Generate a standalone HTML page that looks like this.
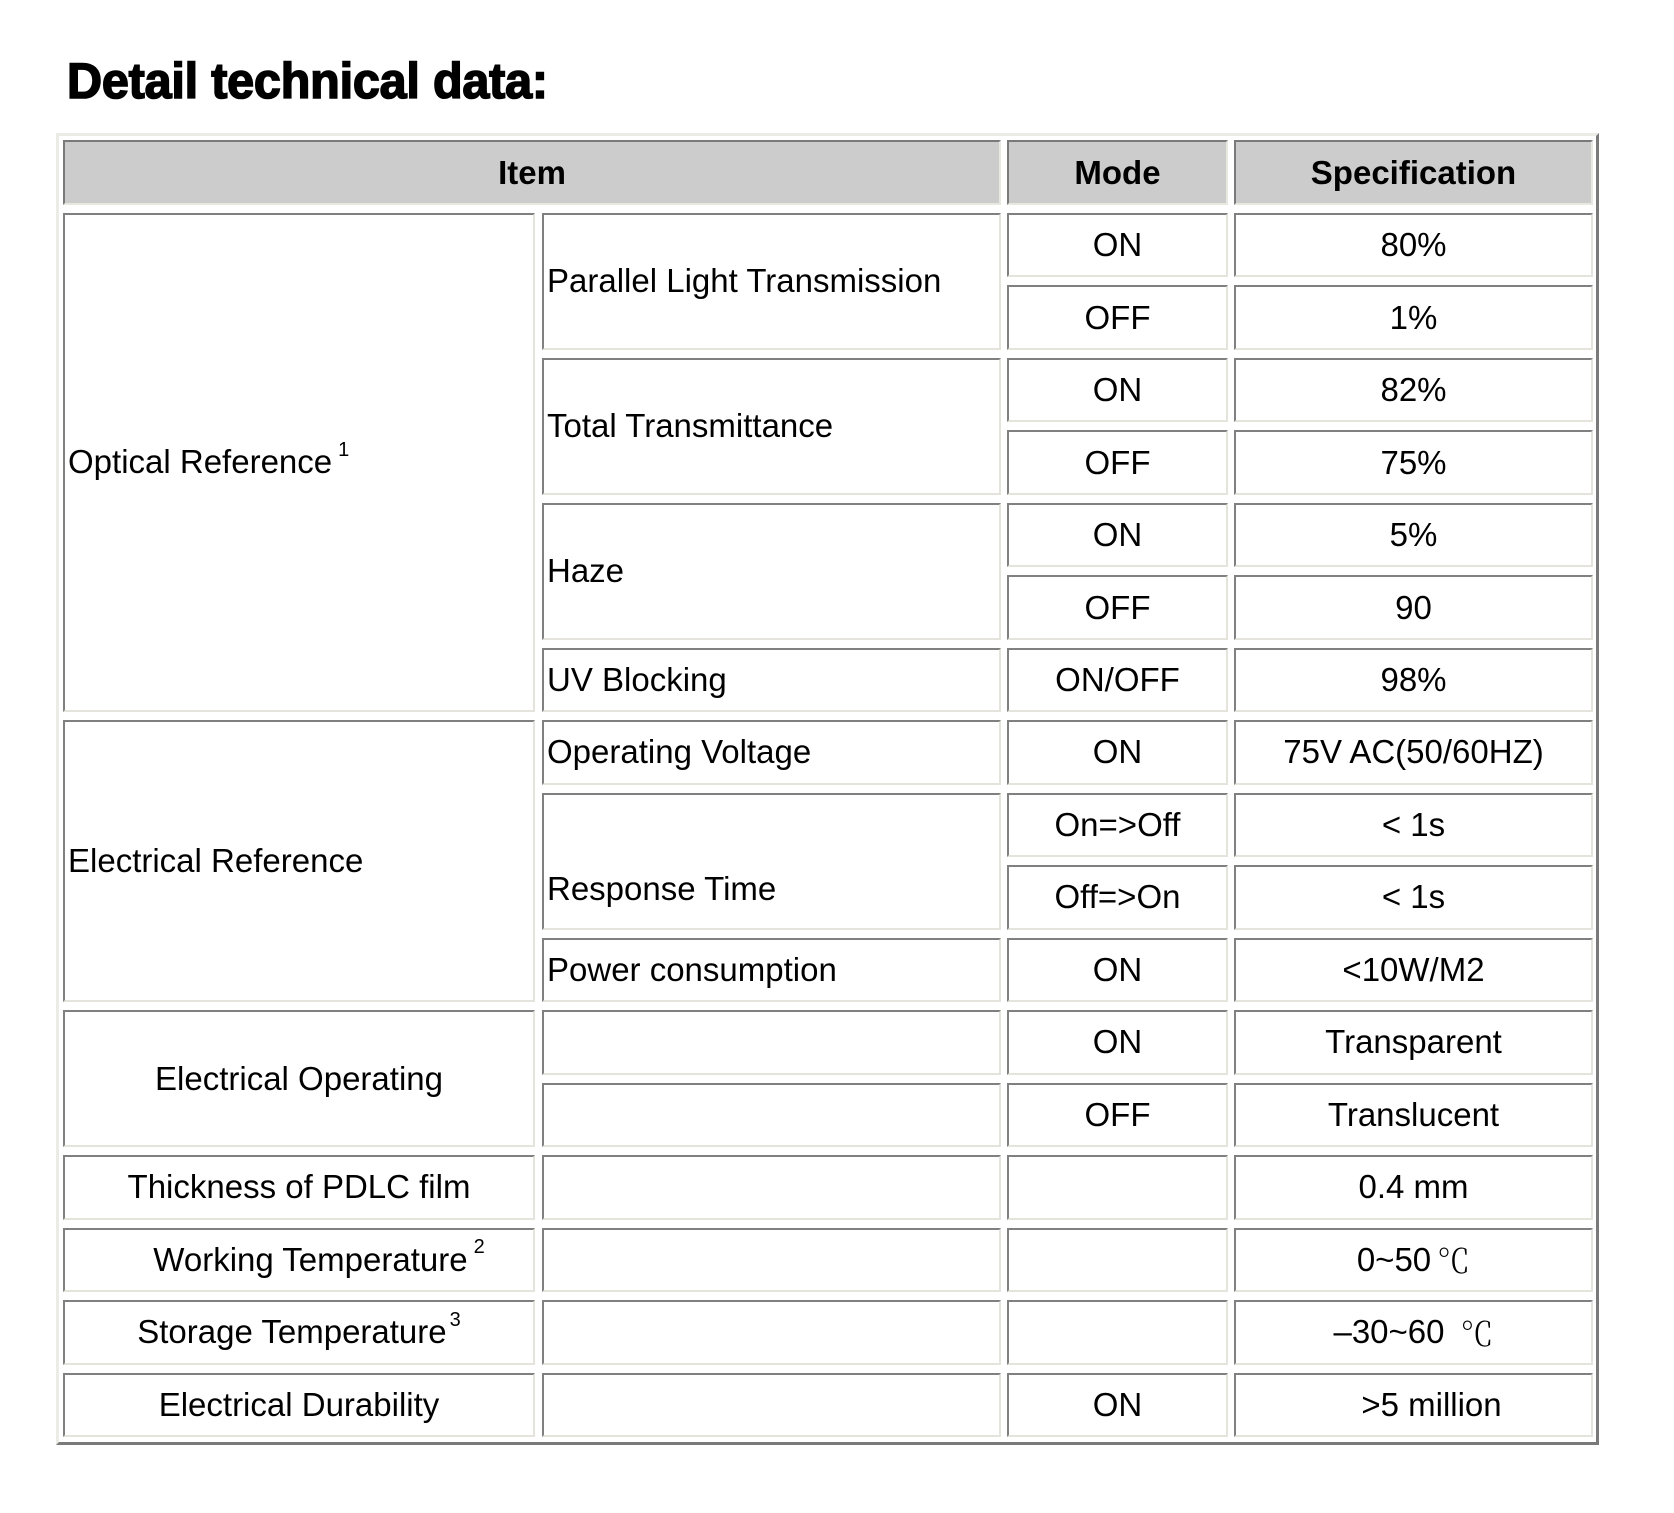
<!DOCTYPE html>
<html><head><meta charset="utf-8">
<style>
html,body{margin:0;padding:0;background:#fff;}
body{width:1674px;height:1513px;position:relative;overflow:hidden;font-family:"Liberation Sans","Noto Sans CJK SC",sans-serif;color:#000;}
.t{position:absolute;left:67px;top:55.5px;font-size:50px;line-height:50px;font-weight:bold;white-space:nowrap;transform:scaleX(0.97);transform-origin:left top;letter-spacing:-0.2px;-webkit-text-stroke:1.6px #000;}
.o{position:absolute;left:56px;top:133px;width:1543px;height:1312px;box-sizing:border-box;border:3px solid;border-color:#ecece6 #7a7a7a #7a7a7a #ecece6;}
.c{position:absolute;box-sizing:border-box;border:2px solid;border-color:#808080 #e4e4dc #e4e4dc #808080;display:flex;align-items:center;justify-content:center;font-size:33px;white-space:nowrap;background:#fff;}
.h{background:#cccccc;font-weight:bold;border-color:#7a7a7a #e8e8e0 #e8e8e0 #7a7a7a;}
.l{justify-content:flex-start;padding-left:3px;}
.a{left:63px;width:472px;}
.b{left:542px;width:459px;}
.m{left:1007px;width:221px;}
.s{left:1234px;width:359px;}
sup{font-size:20px;vertical-align:0;position:relative;top:-12px;margin-left:6px;}
</style></head><body>
<div class="t">Detail technical data:</div>
<div class="o"></div>

<div class="c h" style="left:63px;width:938px;top:140px;height:65px;">Item</div>
<div class="c h m" style="top:140px;height:65px;">Mode</div>
<div class="c h s" style="top:140px;height:65px;">Specification</div>

<div class="c a l" style="top:212.8px;height:499.4px;">Optical Reference<sup>1</sup></div>
<div class="c a l" style="top:720.2px;height:282px;">Electrical Reference</div>
<div class="c a" style="top:1010.2px;height:137px;">Electrical Operating</div>
<div class="c a" style="top:1155.2px;height:64.5px;">Thickness of PDLC film</div>
<div class="c a" style="top:1227.7px;height:64.5px;padding-left:40px;">Working Temperature<sup>2</sup></div>
<div class="c a" style="top:1300.2px;height:64.5px;">Storage Temperature<sup style="margin-left:3px">3</sup></div>
<div class="c a" style="top:1372.6px;height:64.5px;">Electrical Durability</div>

<div class="c b l" style="top:212.8px;height:137px;">Parallel Light Transmission</div>
<div class="c b l" style="top:357.8px;height:137px;">Total Transmittance</div>
<div class="c b l" style="top:502.8px;height:137px;">Haze</div>
<div class="c b l" style="top:647.7px;height:64.5px;">UV Blocking</div>
<div class="c b l" style="top:720.2px;height:64.5px;">Operating Voltage</div>
<div class="c b l" style="top:792.7px;height:137px;padding-top:56px;">Response Time</div>
<div class="c b l" style="top:937.7px;height:64.5px;">Power consumption</div>
<div class="c b" style="top:1010.2px;height:64.5px;"></div>
<div class="c b" style="top:1082.7px;height:64.5px;"></div>
<div class="c b" style="top:1155.2px;height:64.5px;"></div>
<div class="c b" style="top:1227.7px;height:64.5px;"></div>
<div class="c b" style="top:1300.2px;height:64.5px;"></div>
<div class="c b" style="top:1372.6px;height:64.5px;"></div>

<div class="c m" style="top:212.8px;height:64.5px;">ON</div>
<div class="c m" style="top:285.3px;height:64.5px;">OFF</div>
<div class="c m" style="top:357.8px;height:64.5px;">ON</div>
<div class="c m" style="top:430.3px;height:64.5px;">OFF</div>
<div class="c m" style="top:502.8px;height:64.5px;">ON</div>
<div class="c m" style="top:575.3px;height:64.5px;">OFF</div>
<div class="c m" style="top:647.7px;height:64.5px;">ON/OFF</div>
<div class="c m" style="top:720.2px;height:64.5px;">ON</div>
<div class="c m" style="top:792.7px;height:64.5px;">On=&gt;Off</div>
<div class="c m" style="top:865.2px;height:64.5px;">Off=&gt;On</div>
<div class="c m" style="top:937.7px;height:64.5px;">ON</div>
<div class="c m" style="top:1010.2px;height:64.5px;">ON</div>
<div class="c m" style="top:1082.7px;height:64.5px;">OFF</div>
<div class="c m" style="top:1155.2px;height:64.5px;"></div>
<div class="c m" style="top:1227.7px;height:64.5px;"></div>
<div class="c m" style="top:1300.2px;height:64.5px;"></div>
<div class="c m" style="top:1372.6px;height:64.5px;">ON</div>

<div class="c s" style="top:212.8px;height:64.5px;">80%</div>
<div class="c s" style="top:285.3px;height:64.5px;">1%</div>
<div class="c s" style="top:357.8px;height:64.5px;">82%</div>
<div class="c s" style="top:430.3px;height:64.5px;">75%</div>
<div class="c s" style="top:502.8px;height:64.5px;">5%</div>
<div class="c s" style="top:575.3px;height:64.5px;">90</div>
<div class="c s" style="top:647.7px;height:64.5px;">98%</div>
<div class="c s" style="top:720.2px;height:64.5px;">75V AC(50/60HZ)</div>
<div class="c s" style="top:792.7px;height:64.5px;">&lt; 1s</div>
<div class="c s" style="top:865.2px;height:64.5px;">&lt; 1s</div>
<div class="c s" style="top:937.7px;height:64.5px;">&lt;10W/M2</div>
<div class="c s" style="top:1010.2px;height:64.5px;">Transparent</div>
<div class="c s" style="top:1082.7px;height:64.5px;">Translucent</div>
<div class="c s" style="top:1155.2px;height:64.5px;">0.4 mm</div>
<div class="c s" style="top:1227.7px;height:64.5px;">0~50 <span style="font-family:'Noto Serif CJK SC',serif;font-weight:300;margin-left:6px;">℃</span></div>
<div class="c s" style="top:1300.2px;height:64.5px;">–30~60 <span style="font-family:'Noto Serif CJK SC',serif;font-weight:300;margin-left:16px;">℃</span></div>
<div class="c s" style="top:1372.6px;height:64.5px;padding-left:36px;">&gt;5 million</div>
</body></html>
